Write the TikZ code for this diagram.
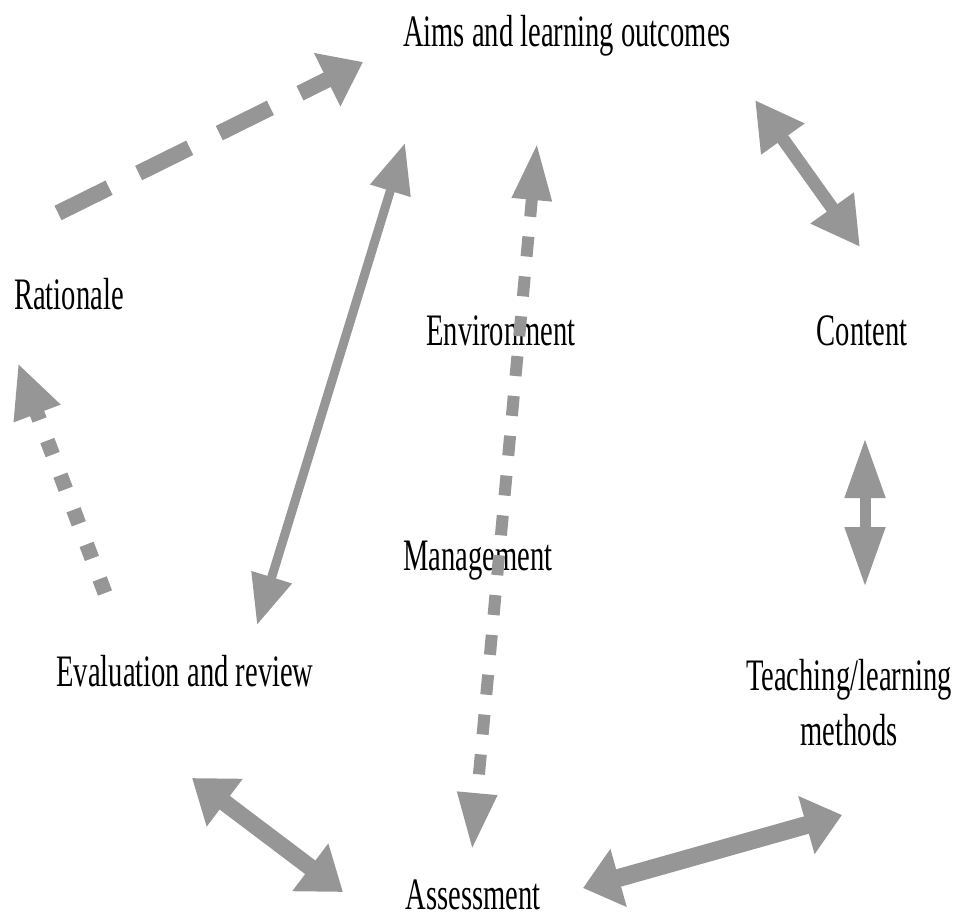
\documentclass[tikz,border=0pt]{standalone}
\usepackage{fontspec}
\setmainfont{Liberation Serif}[FakeStretch=0.635]
\usetikzlibrary{arrows.meta}
\definecolor{arrowgray}{RGB}{150,150,150}

\begin{document}
\begin{tikzpicture}[x=1pt,y=-1pt,
	stage/.style={font=\fontsize{45}{55}\selectfont, inner sep=0pt, anchor=base, align=center},
	link/.style={draw=arrowgray, line width=#1},
	both/.style 2 args={arrows={Triangle[length=#1,width=#2]-Triangle[length=#1,width=#2]}},
	head/.style 2 args={arrows={-Triangle[length=#1,width=#2]}}]
\useasboundingbox (0,0) rectangle (973,917);

	\node[stage] (aims) at (567,47) {Aims and learning outcomes};
	\node[stage] (rationale) at (69,309) {Rationale};
	\node[stage] (environment) at (501,345) {Environment};
	\node[stage] (content) at (862,345) {Content};
	\node[stage] (management) at (478,570) {Management};
	\node[stage] (evaluation) at (185,686) {Evaluation and review};
	\node[stage] (teaching) at (849,745) {Teaching/learning\\methods};
	\node[stage] (assessment) at (473,909) {Assessment};

	\coordinate (r1) at (58,213);
	\coordinate (a1) at (363,62);
	\coordinate (a2) at (405,143);
	\coordinate (e1) at (257,625);
	\coordinate (a3) at (537,143);
	\coordinate (s1) at (472,850);
	\coordinate (e2) at (105,593);
	\coordinate (r2) at (18,363);
	\coordinate (a4) at (755,100);
	\coordinate (c1) at (860,247);
	\coordinate (c2) at (865,438);
	\coordinate (t1) at (865,587);
	\coordinate (e3) at (192,778);
	\coordinate (s2) at (343,892);
	\coordinate (s3) at (583,888);
	\coordinate (t2) at (842,815);

	\draw[link=16, dash pattern=on 57pt off 33pt, head={40pt}{57pt}] (r1) -- (a1);
	\draw[link=9, both={50pt}{40pt}] (a2) -- (e1);
	\draw[link=12, dash pattern=on 20pt off 20pt, both={57pt}{37pt}] (a3) -- (s1);
	\draw[link=15, dash pattern=on 15pt off 22pt, head={54pt}{46pt}] (e2) -- (r2);
	\draw[link=13, both={48pt}{50pt}] (a4) -- (c1);
	\draw[link=11, both={60pt}{38pt}] (c2) -- (t1);
	\draw[link=17, both={41pt}{57pt}] (e3) -- (s2);
	\draw[link=18, both={37pt}{58pt}] (s3) -- (t2);
\end{tikzpicture}
\end{document}
